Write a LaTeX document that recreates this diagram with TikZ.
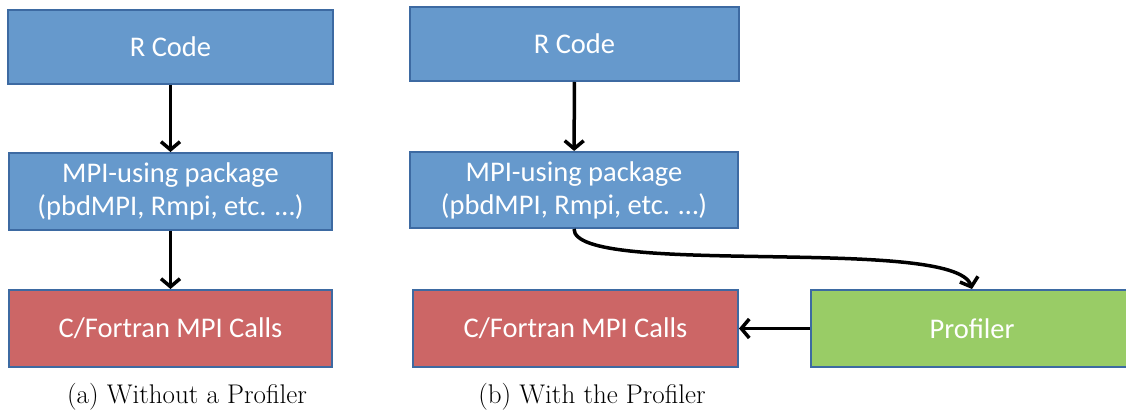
\documentclass[tikz,border=0pt]{standalone}
\usepackage{fontspec}
\setmainfont{Latin Modern Roman}
\newfontfamily\boxfont{Carlito}
\usetikzlibrary{
    arrows.meta,  % For the barb arrow tips
    positioning   % For relative placement of nodes
}
\definecolor{boxblue}{HTML}{6699CC}
\definecolor{boxred}{HTML}{CC6666}
\definecolor{boxgreen}{HTML}{99CC66}
\definecolor{boxline}{HTML}{3D6AA2}

\begin{document}
\begin{tikzpicture}[
    x=1pt, y=-1pt,
    box_style/.style={draw=boxline, line width=2pt, text=white, align=center, inner sep=0pt,
        font=\boxfont\fontsize{28.5}{33}\selectfont},
    arrow_style/.style={line width=3.5pt, -{Straight Barb[length=8pt, width=19pt]}},
    caption_style/.style={font=\fontsize{27}{32}\selectfont}
]
    % Fix the margins of the page
    \useasboundingbox (0,0) rectangle (1126,411);

    % (a) Without a Profiler
    \node[box_style, fill=boxblue, minimum width=325, minimum height=74] (rcode_a) at (170.5,47) {R Code};
    \node[box_style, fill=boxblue, minimum width=323, minimum height=77] (mpi_a) at (170.5,191.5)
        {MPI-using package\\(pbdMPI, Rmpi, etc. …)};
    \node[box_style, fill=boxred, minimum width=323, minimum height=77] (calls_a) at (170.5,328.5)
        {C/Fortran MPI Calls};

    \draw[arrow_style] (rcode_a) -- (mpi_a);
    \draw[arrow_style] (mpi_a) -- (calls_a);

    \node[caption_style] (cap_a) at (187,397) {(a) Without a Profiler};

    % (b) With the Profiler
    \node[box_style, fill=boxblue, minimum width=329, minimum height=74] (rcode_b) at (574.5,44) {R Code};
    \node[box_style, fill=boxblue, minimum width=328, minimum height=76] (mpi_b) at (574,190)
        {MPI-using package\\(pbdMPI, Rmpi, etc. …)};
    \node[box_style, fill=boxred, minimum width=325, minimum height=77] (calls_b) at (575.5,328.5)
        {C/Fortran MPI Calls};
    \node[box_style, fill=boxgreen, minimum width=322, minimum height=77] (prof) at (972,328.5) {Profiler};

    \draw[arrow_style] (rcode_b) -- (mpi_b);
    \draw[arrow_style] (mpi_b.south) .. controls (574,278) and (955,235) .. (prof.north);
    \draw[arrow_style] (prof) -- (calls_b);

    \node[caption_style] (cap_b) at (592,397) {(b) With the Profiler};
\end{tikzpicture}
\end{document}
